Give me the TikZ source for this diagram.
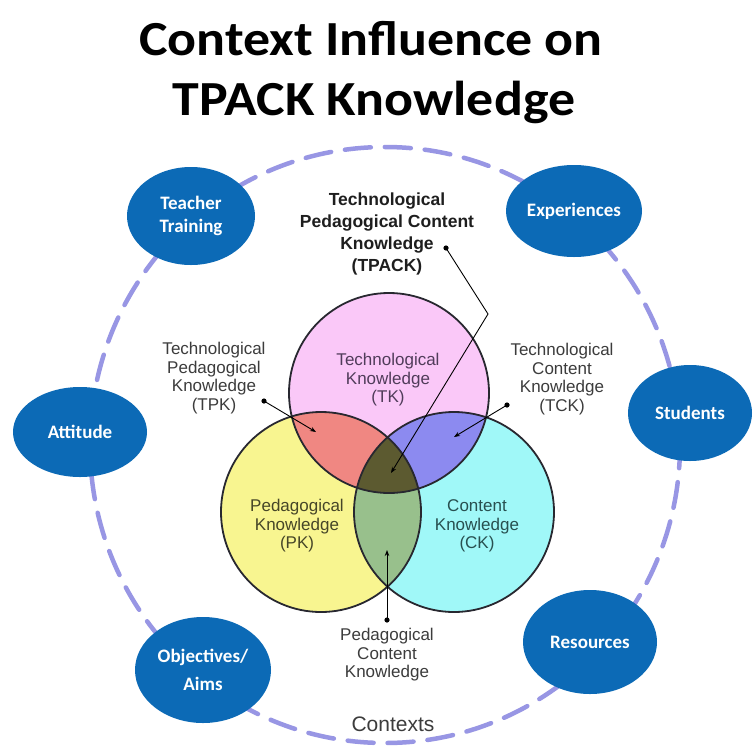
\documentclass[tikz,border=0pt]{standalone}
\usepackage{fontspec}
\setmainfont{Liberation Sans}
\newfontfamily\calfont{Carlito}
\newfontfamily\titlefont[FakeStretch=1.1]{Carlito}
\usetikzlibrary{arrows.meta,shapes.geometric}
\definecolor{tkc}{RGB}{250,200,248}
\definecolor{pkc}{RGB}{248,245,144}
\definecolor{ckc}{RGB}{160,248,248}
\definecolor{tpkc}{RGB}{240,135,130}
\definecolor{tckc}{RGB}{140,138,240}
\definecolor{pckc}{RGB}{152,192,140}
\definecolor{tpackc}{RGB}{92,90,48}
\definecolor{ctxblue}{RGB}{12,106,182}
\definecolor{ctxline}{RGB}{152,150,228}
\definecolor{labgray}{RGB}{60,60,60}
\definecolor{outline}{RGB}{40,40,48}
\begin{document}
\begin{tikzpicture}[x=1pt,y=-1pt,
  ctxnode/.style={ellipse, fill=ctxblue, text=white, align=center, inner sep=0pt,
    font=\calfont\bfseries\fontsize{19}{23}\selectfont},
  venntext/.style={align=center, text=labgray, inner sep=0pt,
    font=\fontsize{17}{18.5}\selectfont},
  arr/.style={draw=black, line width=0.9pt, -{Stealth[length=6pt,width=4.5pt]}},
  dotmark/.style={fill=black},
  vennline/.style={draw=outline, line width=1.8pt}]
\useasboundingbox (0,0) rectangle (754,747);
\fill[white] (0,0) rectangle (754,747);

% title
\node[anchor=base, inner sep=0pt, font=\titlefont\bfseries\fontsize{49}{58}\selectfont] (title1) at (371,55) {Context Influence on};
\node[anchor=base, inner sep=0pt, font=\titlefont\bfseries\fontsize{49}{58}\selectfont] (title2) at (374,115) {TPACK Knowledge};

% context ring
\draw[ctxline, line width=4.5pt, dash pattern=on 26pt off 14pt, line cap=round] (385,445) ellipse [x radius=295pt, y radius=298pt];

% context nodes
\node[ctxnode, minimum width=128pt, minimum height=98pt] (teacher) at (191,216) {Teacher\\Training};
\node[ctxnode, minimum width=136pt, minimum height=92pt] (exper) at (574,211) {Experiences};
\node[ctxnode, minimum width=134pt, minimum height=90pt] (attitude) at (80,432) {Attitude};
\node[ctxnode, minimum width=124pt, minimum height=96pt] (students) at (690,413) {Students};
\node[ctxnode, minimum width=136pt, minimum height=106pt, font=\calfont\bfseries\fontsize{19}{28}\selectfont] (objectives) at (203,670) {Objectives/\\Aims};
\node[ctxnode, minimum width=134pt, minimum height=104pt] (resources) at (590,642) {Resources};

% Venn fills
\fill[pkc] (321,512) circle [radius=100pt];
\fill[ckc] (454,512) circle [radius=100pt];
\fill[tkc] (389,393) circle [radius=100pt];
\begin{scope}
  \clip (389,393) circle [radius=100pt];
  \fill[tpkc] (321,512) circle [radius=100pt];
\end{scope}
\begin{scope}
  \clip (389,393) circle [radius=100pt];
  \fill[tckc] (454,512) circle [radius=100pt];
\end{scope}
\begin{scope}
  \clip (321,512) circle [radius=100pt];
  \fill[pckc] (454,512) circle [radius=100pt];
\end{scope}
\begin{scope}
  \clip (389,393) circle [radius=100pt];
  \clip (321,512) circle [radius=100pt];
  \fill[tpackc] (454,512) circle [radius=100pt];
\end{scope}
\draw[vennline] (321,512) circle [radius=100pt];
\draw[vennline] (454,512) circle [radius=100pt];
\draw[vennline] (389,393) circle [radius=100pt];

% Venn labels
\node[venntext, text={rgb,255:red,80;green,60;blue,90}] (tk) at (388,380) {Technological\\Knowledge\\(TK)};
\node[venntext, text={rgb,255:red,70;green,70;blue,40}] (pk) at (297,526) {Pedagogical\\Knowledge\\(PK)};
\node[venntext, text={rgb,255:red,40;green,80;blue,80}] (ck) at (477,526) {Content\\Knowledge\\(CK)};

% outside labels
\node[venntext] (tpk) at (214,378) {Technological\\Pedagogical\\Knowledge\\(TPK)};
\node[venntext] (tck) at (562,379) {Technological\\Content\\Knowledge\\(TCK)};
\node[venntext] (pck) at (387,655) {Pedagogical\\Content\\Knowledge};
\node[align=center, inner sep=0pt, text={rgb,255:red,30;green,30;blue,30},
  font=\bfseries\fontsize{17.5}{22}\selectfont] (tpack) at (387,234) {Technological\\Pedagogical Content\\Knowledge\\(TPACK)};
\node[inner sep=0pt, text=labgray, font=\fontsize{21}{24}\selectfont] (contexts) at (393,724) {Contexts};

% pointer arrows
\coordinate (tpkdot) at (264,401);
\coordinate (tpktip) at (316,432);
\coordinate (tckdot) at (507,405);
\coordinate (tcktip) at (454,437);
\coordinate (tpackdot) at (446,248);
\coordinate (tpackbend) at (488,314);
\coordinate (tpacktip) at (391,473);
\coordinate (pckdot) at (387,620);
\coordinate (pcktip) at (387,550);

\fill[dotmark] (tpkdot) circle [radius=2.6pt];
\fill[dotmark] (tckdot) circle [radius=2.6pt];
\fill[dotmark] (tpackdot) circle [radius=2.6pt];
\fill[dotmark] (pckdot) circle [radius=2.6pt];
\draw[arr] (tpkdot) -- (tpktip);
\draw[arr] (tckdot) -- (tcktip);
\draw[arr] (tpackdot) -- (tpackbend) -- (tpacktip);
\draw[arr] (pckdot) -- (pcktip);
\end{tikzpicture}
\end{document}
